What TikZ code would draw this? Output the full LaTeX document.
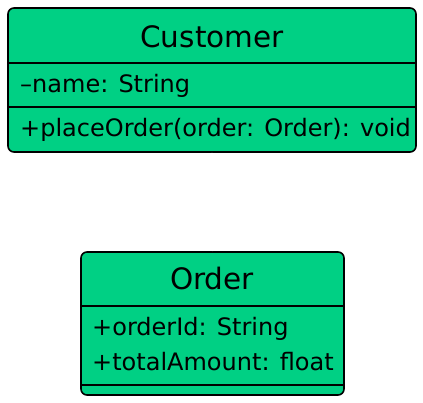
\documentclass[tikz,border=0pt]{standalone}
\usepackage{fontspec}
\setmainfont{DejaVu Sans}
\usetikzlibrary{calc,arrows.meta}
\definecolor{umlgreen}{RGB}{0,208,132}
\tikzset{
  classbox/.style={draw=black, fill=umlgreen, line width=1.6pt, rounded corners=6pt, inner sep=0pt},
  sepline/.style={draw=black, line width=1.6pt},
  titletext/.style={font=\fontsize{29.5}{34}\selectfont, inner sep=0pt},
  membertext/.style={font=\fontsize{24}{28}\selectfont, inner sep=0pt, anchor=west},
  hidden/.style={draw=white, line width=0.8pt, -{Stealth[length=5pt,width=4pt]}}
}
\begin{document}
\begin{tikzpicture}[x=1pt,y=1pt]
\useasboundingbox (0,0) rectangle (423,402);
% Customer
\node[classbox, minimum width=408pt, minimum height=144pt] (cust) at (212,322) {};
\draw[sepline] ($(cust.west)+(0,17)$) coordinate (cs1a) -- ($(cust.east)+(0,17)$) coordinate (cs1b);
\draw[sepline] ($(cust.west)+(0,-27)$) coordinate (cs2a) -- ($(cust.east)+(0,-27)$) coordinate (cs2b);
\node[titletext] (custtitle) at (212,365) {Customer};
\node[membertext] (custattr) at (20,316) {–name: String};
\node[membertext] (custop) at (20,272) {+placeOrder(order: Order): void};
% Order
\node[classbox, minimum width=263pt, minimum height=143pt] (ord) at (212.5,78.5) {};
\draw[sepline] ($(ord.west)+(0,17.5)$) coordinate (os1a) -- ($(ord.east)+(0,17.5)$) coordinate (os1b);
\draw[sepline] ($(ord.west)+(0,-61.5)$) coordinate (os2a) -- ($(ord.east)+(0,-61.5)$) coordinate (os2b);
\node[titletext] (ordtitle) at (212,123) {Order};
\node[membertext] (ordattr1) at (92,73) {+orderId: String};
\node[membertext] (ordattr2) at (92,40) {+totalAmount: float};
% connector (drawn in white)
\draw[hidden] (cust.south) -- (ord.north);
\end{tikzpicture}
\end{document}
